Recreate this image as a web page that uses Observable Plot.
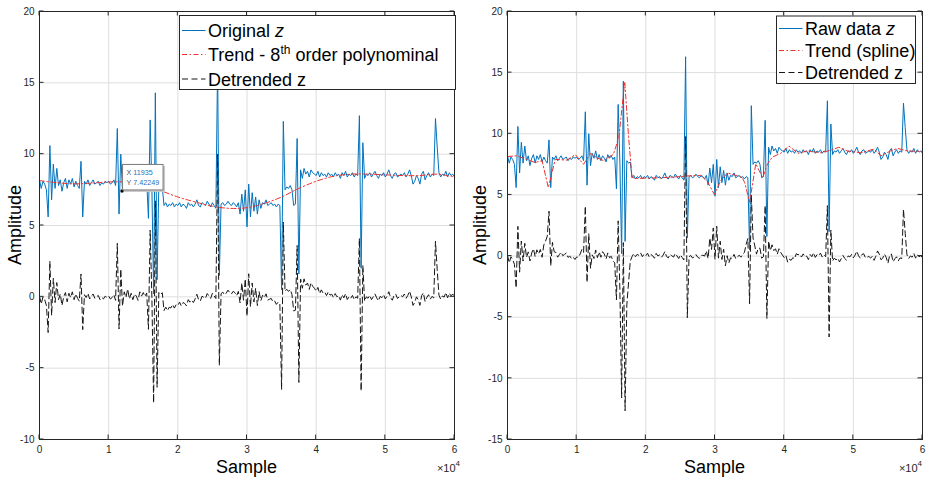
<!DOCTYPE html>
<html>
<head>
<meta charset="utf-8">
<script src="https://cdn.jsdelivr.net/npm/d3@7"></script>
<script src="https://cdn.jsdelivr.net/npm/@observablehq/plot@0.6"></script>
<style>
  html, body { margin: 0; padding: 0; background: #fff; }
  #chart { position: relative; width: 927px; height: 478px; overflow: hidden; }
  #left, #right { position: absolute; top: 0; }
  #left { left: 0; }
  #right { left: 460px; }
</style>
</head>
<body>
<div id="chart"><div id="left"></div><div id="right"></div></div>
<script>
// Samples are recorded every 250 sample indices, 0 … 60000
const sampleStep = 250;

// Raw signal z
const rawZ = [
  8.2, 7.6, 8.1, 7.9, 7.5, 5.6, 10.6, 6.8, 9.3, 7.6,
  9.0, 7.8, 8.2, 7.4, 8.0, 8.3, 7.6, 8.2, 7.9, 8.3,
  7.7, 8.1, 7.8, 7.6, 9.5, 5.6, 8.1, 7.9, 8.2, 7.8,
  8.0, 8.2, 7.9, 8.0, 8.1, 7.8, 8.0, 7.9, 8.1, 8.0,
  8.1, 7.9, 8.0, 8.2, 7.8, 11.8, 5.8, 10.0, 7.4, 8.4,
  8.0, 8.6, 7.9, 8.3, 7.8, 8.2, 8.0, 7.7, 8.3, 8.0,
  8.2, 7.9, 8.1, 5.5, 12.4, 7.6, 0.2, 14.3, 1.2, 7.8,
  7.6, 7.7, 6.4, 6.6, 6.3, 6.5, 6.4, 6.6, 6.3, 6.5,
  6.4, 6.6, 6.3, 6.5, 6.4, 6.2, 6.6, 6.4, 6.5, 6.3,
  6.5, 6.8, 6.4, 6.3, 6.6, 6.5, 6.4, 6.7, 6.5, 6.3,
  6.6, 6.4, 6.2, 16.3, 1.5, 6.5, 6.6, 6.4, 6.5, 6.7,
  6.5, 6.4, 6.6, 6.5, 6.3, 6.6, 5.8, 7.2, 6.0, 7.5,
  4.9, 7.9, 5.6, 7.3, 6.0, 7.0, 5.8, 6.8, 6.2, 6.6,
  6.5, 6.8, 6.4, 6.5, 6.6, 6.4, 6.5, 6.3, 6.5, 6.4,
  0.5, 12.3, 7.5, 7.7, 7.6, 7.8, 7.5, 6.4, 6.5, 11.1,
  1.6, 8.9, 8.3, 9.0, 8.6, 8.8, 8.4, 8.9, 8.7, 8.6,
  8.5, 8.8, 8.4, 8.7, 8.5, 8.6, 8.4, 8.7, 8.5, 8.6,
  8.4, 8.7, 8.5, 8.6, 8.3, 8.7, 8.5, 8.8, 8.4, 8.6,
  8.5, 8.7, 8.4, 8.6, 8.5, 12.7, 2.0, 10.8, 8.3, 8.6,
  8.5, 8.7, 8.4, 8.6, 8.8, 8.5, 8.3, 8.6, 8.5, 8.7,
  8.4, 8.6, 8.9, 8.5, 8.3, 8.6, 8.7, 8.4, 8.5, 8.6,
  8.5, 8.7, 8.4, 8.6, 8.9, 8.5, 7.9, 8.1, 8.5, 8.3,
  7.9, 8.6, 8.8, 8.2, 8.5, 8.7, 8.4, 8.6, 8.5, 12.5,
  10.5, 8.7, 8.4, 8.6, 8.5, 8.8, 8.4, 8.7, 8.5, 8.6,
  8.4
];

// 8th-order polynomial trend
const polyTrendX = [0, 2500, 5000, 7500, 10000, 12500, 15000, 17500, 20000, 22500, 25000, 27500, 30000,
  32500, 35000, 37500, 40000, 42500, 45000, 47500, 50000, 52500, 55000, 57500, 60000];
const polyTrend = [8.15, 8.0, 7.92, 7.97, 8.05, 8.05, 7.9, 7.45, 7.0, 6.65, 6.35, 6.2, 6.25,
  6.55, 7.0, 7.6, 8.1, 8.45, 8.6, 8.6, 8.55, 8.5, 8.5, 8.6, 8.4];

// z with the polynomial trend removed
const detrendedPoly = [
  0.05, -0.5, 0.0, -0.2, -0.6, -2.5, 2.5, -1.3, 1.3, -0.4,
  1.0, -0.2, 0.2, -0.6, 0.0, 0.3, -0.35, 0.25, -0.05, 0.35,
  -0.2, 0.2, -0.1, -0.3, 1.6, -2.3, 0.15, -0.05, 0.25, -0.15,
  0.03, 0.2, -0.1, 0.0, 0.1, -0.2, -0.05, -0.15, 0.05, -0.05,
  0.05, -0.15, -0.05, 0.15, -0.25, 3.75, -2.25, 1.95, -0.65, 0.35,
  -0.05, 0.55, -0.15, 0.25, -0.2, 0.2, 0.05, -0.25, 0.35, 0.05,
  0.3, 0.03, 0.27, -2.28, 4.67, -0.08, -7.43, 6.72, -6.34, 0.3,
  0.15, 0.29, -0.96, -0.72, -0.97, -0.73, -0.78, -0.54, -0.79, -0.55,
  -0.6, -0.37, -0.63, -0.4, -0.47, -0.63, -0.2, -0.37, -0.23, -0.4,
  -0.15, 0.18, -0.2, -0.29, 0.04, -0.03, -0.1, 0.23, 0.06, -0.11,
  0.25, 0.06, -0.12, 9.99, -4.8, 0.22, 0.33, 0.14, 0.26, 0.47,
  0.3, 0.2, 0.39, 0.29, 0.08, 0.38, -0.43, 0.97, -0.24, 1.26,
  -1.35, 1.62, -0.7, 0.97, -0.36, 0.61, -0.61, 0.36, -0.27, 0.11,
  -0.05, 0.21, -0.23, -0.17, -0.11, -0.35, -0.29, -0.53, -0.37, -0.51,
  -6.5, 5.24, 0.39, 0.53, 0.38, 0.52, 0.17, -0.99, -0.94, 3.6,
  -6.0, 1.25, 0.6, 1.26, 0.82, 0.97, 0.52, 0.98, 0.74, 0.6,
  0.4, 0.66, 0.23, 0.49, 0.26, 0.32, 0.09, 0.35, 0.12, 0.18,
  -0.05, 0.23, 0.0, 0.08, -0.23, 0.15, -0.07, 0.22, -0.19, 0.0,
  -0.1, 0.1, -0.2, 0.0, -0.1, 4.1, -6.6, 2.2, -0.3, 0.0,
  -0.1, 0.1, -0.2, 0.0, 0.2, -0.07, -0.28, 0.03, -0.06, 0.15,
  -0.15, 0.05, 0.36, -0.04, -0.24, 0.08, 0.19, -0.11, -0.01, 0.1,
  0.0, 0.2, -0.1, 0.1, 0.4, 0.0, -0.6, -0.4, 0.0, -0.2,
  -0.6, 0.09, 0.28, -0.33, -0.04, 0.15, -0.16, 0.03, -0.08, 3.9,
  1.9, 0.12, -0.16, 0.06, -0.02, 0.3, -0.07, 0.25, 0.07, 0.2,
  0.0
];

// Spline trend knots
const splineTrendX = [0, 1350, 2800, 4000, 5000, 5900, 6900, 8600, 9800, 11000, 12000, 12900, 13900,
  14900, 15300, 16100, 16950, 17500, 18000, 18500, 22000, 25000, 26000, 27900, 28900, 29900, 30800,
  31800, 33900, 34300, 35000, 35900, 36900, 37600, 38300, 39500, 40700, 42000, 43300, 45300, 46700,
  47900, 49100, 51100, 53000, 54000, 55400, 56400, 57800, 60000];
const splineTrend = [8.14, 8.2, 7.9, 7.65, 7.8, 5.6, 7.9, 7.85, 8.3, 7.5, 8.4, 8.05, 7.8,
  8.2, 8.3, 9.7, 14.25, 9.8, 6.45, 6.35, 6.4, 6.5, 6.55, 6.6, 6.1, 5.04, 6.15,
  6.8, 6.45, 6.0, 4.4, 7.55, 6.4, 7.55, 8.1, 8.4, 9.0, 8.4, 8.6, 8.45, 8.65,
  8.9, 8.6, 8.45, 8.75, 8.2, 8.6, 8.8, 8.6, 8.55];

// z with the spline trend removed
const detrendedSpline = [
  0.06, -0.55, -0.06, -0.27, -0.68, -2.6, 2.43, -1.32, 1.23, -0.41,
  1.04, -0.11, 0.34, -0.4, 0.25, 0.6, -0.05, 0.51, 0.18, 0.54,
  -0.1, 0.91, 1.22, 1.63, 3.67, -0.8, 1.12, 0.35, 0.3, -0.09,
  0.12, 0.32, 0.03, 0.14, 0.25, -0.11, 0.0, -0.2, -0.09, -0.28,
  -0.07, -0.1, 0.17, 0.53, 0.3, 4.08, -2.15, 1.82, -1.0, 0.1,
  -0.2, 0.5, -0.13, 0.34, -0.1, 0.36, 0.16, -0.24, 0.26, -0.14,
  -0.02, -0.39, -0.55, -3.59, 2.88, -2.85, -11.6, 1.1, -12.65, -4.0,
  -2.2, -0.42, -0.05, 0.2, -0.05, 0.15, 0.05, 0.25, -0.05, 0.15,
  0.03, 0.23, -0.08, 0.12, 0.02, -0.18, 0.22, 0.01, 0.1, -0.1,
  0.08, 0.37, -0.04, -0.15, 0.14, 0.03, -0.08, 0.21, 0.01, -0.2,
  0.1, -0.11, -0.32, 9.77, -5.04, -0.05, 0.05, -0.16, -0.07, 0.12,
  -0.09, -0.19, 0.05, 0.07, 0.0, 0.42, -0.2, 1.47, 0.54, 2.3,
  -0.26, 2.44, -0.17, 1.21, -0.28, 0.56, -0.8, 0.03, -0.57, -0.14,
  -0.2, 0.14, -0.22, -0.07, 0.07, -0.09, 0.16, 0.29, 0.96, 1.43,
  -3.9, 5.0, 1.47, 0.84, 0.16, 0.65, 0.64, -0.17, -0.06, 4.13,
  -5.1, 1.23, 0.44, 0.92, 0.45, 0.6, 0.15, 0.6, 0.3, 0.08,
  -0.12, 0.05, -0.49, -0.26, -0.35, -0.13, -0.22, 0.2, 0.1, 0.16,
  -0.08, 0.18, -0.06, 0.0, -0.29, 0.13, -0.05, 0.27, -0.11, 0.11,
  0.03, 0.24, -0.08, 0.09, -0.05, 4.12, -6.62, 2.13, -0.41, -0.16,
  -0.32, -0.17, -0.48, -0.21, 0.05, -0.19, -0.33, 0.01, -0.07, 0.14,
  -0.14, 0.08, 0.4, 0.02, -0.16, 0.13, 0.19, -0.15, -0.09, -0.03,
  -0.17, -0.01, -0.35, -0.01, 0.42, 0.16, -0.3, -0.17, 0.16, -0.11,
  -0.59, 0.04, 0.18, -0.47, -0.22, -0.06, -0.39, -0.15, -0.21, 3.82,
  1.86, 0.1, -0.2, 0.01, -0.09, 0.22, -0.17, 0.13, -0.06, 0.04,
  -0.15
];

// Axis ticks
const xTicks = [0, 10000, 20000, 30000, 40000, 50000, 60000];
const yTicksLeft = [-10, -5, 0, 5, 10, 15, 20];
const yTicksRight = [-15, -10, -5, 0, 5, 10, 15, 20];

// Data tip on the raw signal
const tipX = [11935];
const tipY = [7.42249];

const FONT = '"Liberation Sans", Arial, Helvetica, sans-serif';
const INK = "#262626";
const BLUE = "#0072BD";
const RED = "#f0302e";
const BLACK = "#161616";
const DASH = "6,3.5";
const DASHDOT = "5,2.5,1.5,2.5";

function drawPanel(el, cfg) {
  const rawRows = rawZ.map((z, i) => ({s: i * sampleStep, z}));
  const detRows = cfg.detrended.map((z, i) => ({s: i * sampleStep, z}));
  const trendRows = cfg.trendX.map((s, i) => ({s, z: cfg.trend[i]}));
  const tipRows = cfg.tip ? tipX.map((s, i) => ({s, z: tipY[i]})) : [];

  const plot = Plot.plot({
    width: cfg.width,
    height: 478,
    marginLeft: cfg.marginLeft,
    marginRight: cfg.marginRight,
    marginTop: 11,
    marginBottom: 39,
    style: {fontFamily: FONT, fontSize: "10px", color: INK, background: "#fff", overflow: "visible"},
    x: {domain: [0, 60000]},
    y: {domain: cfg.yDomain},
    marks: [
      Plot.gridX(xTicks, {stroke: "#dedede", strokeOpacity: 1}),
      Plot.gridY(cfg.yTicks, {stroke: "#dedede", strokeOpacity: 1}),
      Plot.axisX(xTicks, {tickSize: 0, tickPadding: 6, tickFormat: (d) => String(d / 1e4), label: null}),
      Plot.axisY(cfg.yTicks, {tickSize: 0, tickPadding: 5, tickFormat: (d) => String(d), label: null}),
      Plot.lineY(rawRows, {x: "s", y: "z", stroke: BLUE, strokeWidth: 1}),
      Plot.line(trendRows, {x: "s", y: "z", stroke: RED, strokeWidth: 1, strokeDasharray: DASHDOT, curve: cfg.curve}),
      Plot.lineY(detRows, {x: "s", y: "z", stroke: BLACK, strokeWidth: 1, strokeDasharray: DASH}),
      Plot.dot(tipRows, {x: "s", y: "z", r: 1.7, fill: "#000", stroke: "none"}),
      Plot.frame({stroke: INK, strokeWidth: 1})
    ]
  });

  const sx = plot.scale("x"), sy = plot.scale("y");
  const svg = d3.select(plot);
  const left = cfg.marginLeft, right = cfg.width - cfg.marginRight, top = 11, bottom = 478 - 39;
  const g = svg.append("g").attr("stroke", INK).attr("stroke-width", 1);

  // Inward ticks on all four sides
  for (const v of xTicks) {
    const X = sx.apply(v);
    g.append("line").attr("x1", X).attr("x2", X).attr("y1", bottom).attr("y2", bottom - 4.5);
    g.append("line").attr("x1", X).attr("x2", X).attr("y1", top).attr("y2", top + 4.5);
  }
  for (const v of cfg.yTicks) {
    const Y = sy.apply(v);
    g.append("line").attr("y1", Y).attr("y2", Y).attr("x1", left).attr("x2", left + 4.5);
    g.append("line").attr("y1", Y).attr("y2", Y).attr("x1", right).attr("x2", right - 4.5);
  }

  // Axis titles
  svg.append("text")
    .attr("transform", `translate(${cfg.yLabelX},${(top + bottom) / 2}) rotate(-90)`)
    .attr("text-anchor", "middle").attr("dy", "0.35em")
    .attr("font-family", FONT).attr("font-size", 18).attr("fill", "#000")
    .text("Amplitude");
  svg.append("text")
    .attr("x", (left + right) / 2).attr("y", 473)
    .attr("text-anchor", "middle")
    .attr("font-family", FONT).attr("font-size", 18).attr("fill", "#000")
    .text("Sample");
  const mult = svg.append("text")
    .attr("x", right + cfg.multDx).attr("y", 472)
    .attr("text-anchor", "end")
    .attr("font-family", FONT).attr("font-size", 11).attr("fill", INK);
  mult.append("tspan").text("×10");
  mult.append("tspan").attr("dy", -6).attr("font-size", 8).text("4");

  // Data tip box
  if (cfg.tip) {
    const px = sx.apply(tipX[0]), py = sy.apply(tipY[0]);
    const tip = svg.append("g").attr("font-family", FONT).attr("font-size", 7.2).attr("text-anchor", "start");
    tip.append("rect").attr("x", px + 2.5).attr("y", py - 24.5).attr("width", 41).attr("height", 26)
      .attr("fill", "#c8c8c8");
    tip.append("rect").attr("x", px + 1).attr("y", py - 26).attr("width", 40.5).attr("height", 25.5)
      .attr("fill", "#fff").attr("stroke", "#7a7a7a").attr("stroke-width", 1);
    const t1 = tip.append("text").attr("x", px + 5).attr("y", py - 15);
    t1.append("tspan").attr("fill", "#555").text("X ");
    t1.append("tspan").attr("fill", "#2f6db5").text(String(tipX[0]));
    const t2 = tip.append("text").attr("x", px + 5).attr("y", py - 5);
    t2.append("tspan").attr("fill", "#555").text("Y ");
    t2.append("tspan").attr("fill", "#2f6db5").text(String(tipY[0]));
  }

  // Legend
  const L = cfg.legend;
  const lg = svg.append("g").attr("font-family", FONT).attr("font-size", 18)
    .attr("fill", "#000").attr("text-anchor", "start");
  lg.append("rect").attr("x", L.x).attr("y", L.y).attr("width", L.w).attr("height", L.h)
    .attr("fill", "#fff").attr("stroke", INK).attr("stroke-width", 1);
  const styles = [
    {stroke: BLUE, dash: null},
    {stroke: RED, dash: DASHDOT},
    {stroke: BLACK, dash: DASH}
  ];
  L.rows.forEach((row, i) => {
    lg.append("line").attr("x1", L.x + 2.5).attr("x2", L.x + 26).attr("y1", row.y).attr("y2", row.y)
      .attr("stroke", styles[i].stroke).attr("stroke-width", 1)
      .attr("stroke-dasharray", styles[i].dash);
    const t = lg.append("text").attr("x", L.x + 28.5).attr("y", row.y + 6.5);
    for (const part of row.parts) {
      const sp = t.append("tspan").text(part.text);
      if (part.italic) sp.attr("font-style", "italic");
      if (part.sup) sp.attr("font-size", 12).attr("dy", -7);
      if (part.down) sp.attr("dy", 7);
    }
  });

  el.appendChild(plot);
}

drawPanel(document.getElementById("left"), {
  width: 460, marginLeft: 39, marginRight: 6,
  yDomain: [-10, 20], yTicks: yTicksLeft,
  trendX: polyTrendX, trend: polyTrend, curve: "catmull-rom",
  detrended: detrendedPoly,
  yLabelX: 15, multDx: 6, tip: true,
  legend: {
    x: 179.5, y: 15.5, w: 276, h: 74,
    rows: [
      {y: 30.5, parts: [{text: "Original "}, {text: "z", italic: true}]},
      {y: 54.5, parts: [{text: "Trend - 8"}, {text: "th", sup: true}, {text: " order polynominal", down: true}]},
      {y: 79, parts: [{text: "Detrended z"}]}
    ]
  }
});

drawPanel(document.getElementById("right"), {
  width: 467, marginLeft: 47, marginRight: 5,
  yDomain: [-15, 20], yTicks: yTicksRight,
  trendX: splineTrendX, trend: splineTrend, curve: "linear",
  detrended: detrendedSpline,
  yLabelX: 20, multDx: 0, tip: false,
  legend: {
    x: 316.5, y: 16, w: 139, h: 67.5,
    rows: [
      {y: 28.5, parts: [{text: "Raw data "}, {text: "z", italic: true}]},
      {y: 50.5, parts: [{text: "Trend (spline)"}]},
      {y: 72.5, parts: [{text: "Detrended z"}]}
    ]
  }
});
</script>
</body>
</html>
